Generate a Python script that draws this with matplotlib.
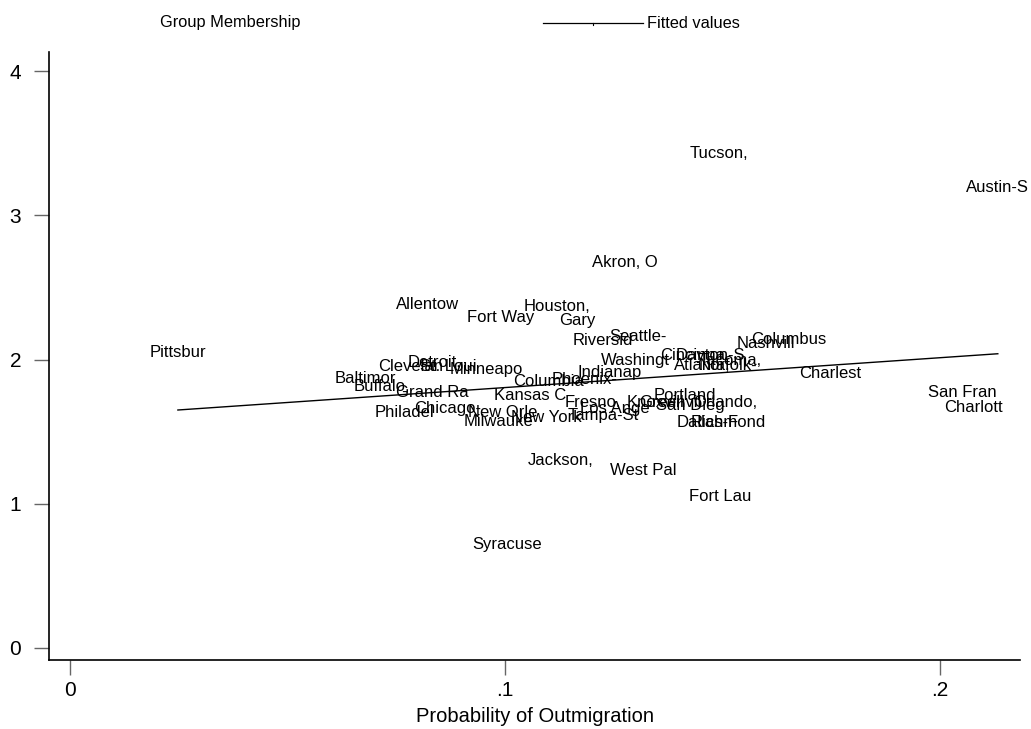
import numpy as np
import matplotlib
matplotlib.use("Agg")
import matplotlib.pyplot as plt
from matplotlib.lines import Line2D

plt.rcParams['font.family'] = ['Liberation Sans', 'DejaVu Sans']

# --- data ---
cities = ["Tucson,", "Austin-S", "Akron, O", "Allentow", "Houston,", "Fort Way", "Gary",
          "Riversid", "Seattle-", "Columbus", "Nashvill", "Pittsbur", "Washingt", "Cincinna",
          "Dayton-S", "Tacoma,", "Atlanta,", "Norfolk-", "Clevelan", "Detroit,", "St. Loui",
          "Baltimor", "Buffalo,", "Grand Ra", "Minneapo", "Columbia", "Phoenix-", "Indianap",
          "Kansas C", "Fresno,", "Los Ange", "Tampa-St", "New York", "New Orle", "Milwauke",
          "Chicago-", "Philadel", "Portland", "Knoxvill", "Greenvil", "San Dieg", "Orlando,",
          "Richmond", "Dallas-F", "Charlest", "San Fran", "Charlott", "Fort Lau", "West Pal",
          "Jackson,", "Syracuse"]
outmig = [0.1492, 0.2133, 0.1276, 0.0823, 0.1120, 0.0989, 0.1166,
          0.1225, 0.1306, 0.1653, 0.1600, 0.0248, 0.1301, 0.1432,
          0.1472, 0.1517, 0.1453, 0.1513, 0.0782, 0.0839, 0.0869,
          0.0680, 0.0717, 0.0834, 0.0956, 0.1099, 0.1184, 0.1241,
          0.1057, 0.1202, 0.1253, 0.1225, 0.1094, 0.0995, 0.0984,
          0.0867, 0.0768, 0.1414, 0.1345, 0.1379, 0.1425, 0.1506,
          0.1513, 0.1467, 0.1747, 0.2051, 0.2076, 0.1494, 0.1317,
          0.1129, 0.1005]
group = [3.43, 3.19, 2.67, 2.38, 2.37, 2.29, 2.27,
         2.13, 2.16, 2.14, 2.11, 2.05, 1.99, 2.03,
         2.03, 1.99, 1.96, 1.96, 1.95, 1.98, 1.95,
         1.87, 1.81, 1.77, 1.93, 1.85, 1.86, 1.91,
         1.75, 1.70, 1.66, 1.61, 1.60, 1.63, 1.57,
         1.66, 1.63, 1.75, 1.70, 1.70, 1.68, 1.70,
         1.56, 1.56, 1.90, 1.77, 1.67, 1.05, 1.23,
         1.30, 0.72]

# fitted values (linear fit) at the smallest and largest outmigration
fitted_x = [0.0248, 0.2133]
fitted_y = [1.65, 2.04]

xticks = [0, 0.1, 0.2]
xticklabels = ["0", ".1", ".2"]
yticks = [0, 1, 2, 3, 4]

fig = plt.figure(figsize=(10.31, 7.29), dpi=100)
W, H = 1031, 729
ax = fig.add_axes([49 / W, 1 - 660 / H, (1020 - 49) / W, (660 - 52) / H])

for c, xi, yi in zip(cities, outmig, group):
    ax.text(xi, yi, c, ha='center', va='center', fontsize=12, color='black', clip_on=False)

ax.plot(fitted_x, fitted_y, color='black', lw=1)

ax.set_xlim(-0.00483, 0.2184)
ax.set_ylim(-0.0832, 4.132)
ax.set_xticks(xticks)
ax.set_xticklabels(xticklabels)
ax.set_yticks(yticks)
for s in ['top', 'right']:
    ax.spines[s].set_visible(False)
for s in ['left', 'bottom']:
    ax.spines[s].set_linewidth(1.2)
ax.tick_params(axis='both', direction='out', length=11, width=1, labelsize=15, color='#666666')
ax.tick_params(axis='y', pad=9)
ax.tick_params(axis='x', pad=4)
ax.set_xlabel("Probability of Outmigration", fontsize=14.5, labelpad=5)

# legend at top
ly = 1 - 23 / H
fig.text(160 / W, ly, "Group Membership", fontsize=11.8, ha='left', va='center')
fig.add_artist(Line2D([543 / W, 643 / W], [ly, ly], color='black', lw=0.9))
fig.add_artist(Line2D([593 / W, 593 / W], [ly, ly - 2 / H], color='black', lw=0.8))
fig.text(647 / W, ly, "Fitted values", fontsize=11.8, ha='left', va='center')

fig.savefig("out.png", dpi=100)
